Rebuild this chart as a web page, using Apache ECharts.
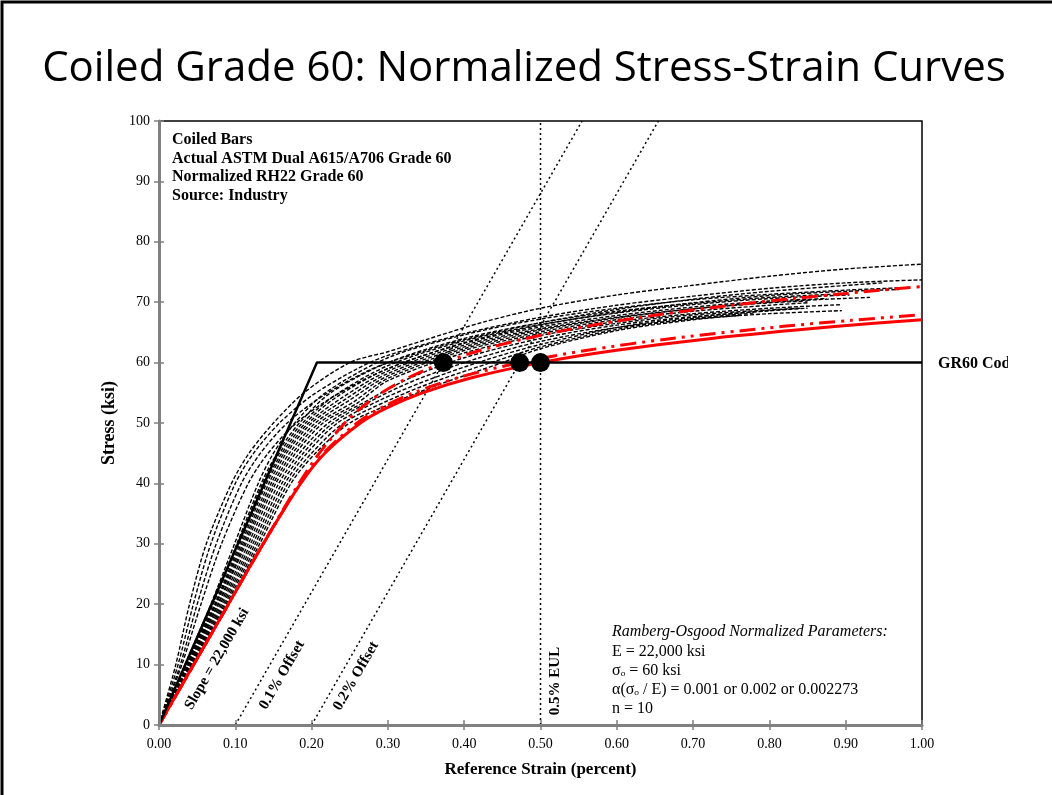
<!DOCTYPE html>
<html><head><meta charset="utf-8">
<script src="https://cdn.jsdelivr.net/npm/echarts@6/dist/echarts.min.js"></script>
<style>html,body{margin:0;padding:0;background:#fff}#c{width:1052px;height:795px}</style>
</head><body><div id="c"></div>
<script>
// ---- data: [strain (percent), stress (ksi)] ----
const S1 = [[0,0],[0.022,10],[0.04,20],[0.062,30],[0.095,40],[0.118,45],[0.15,50],[0.19,55],[0.25,60],[0.3,61.8],[0.35,63.8],[0.425,66.7],[0.5,69],[0.6,71.2],[0.7,72.8],[0.8,74.3],[0.9,75.5],[1.0,76.3]];
const S2 = [[0,0],[0.025,10],[0.045,20],[0.068,30],[0.1,40],[0.124,45],[0.158,50],[0.2,54.5],[0.26,59],[0.3,61.2],[0.4,64.8],[0.5,67.5],[0.6,69.5],[0.7,71],[0.8,72.3],[0.9,73.2],[1.0,73.7]];
const S3 = [[0,0],[0.028,10],[0.05,20],[0.075,30],[0.108,40],[0.133,45],[0.168,50],[0.215,54.5],[0.28,59],[0.35,62],[0.4,63.8],[0.5,66.6],[0.6,68.8],[0.7,70.5],[0.8,71.8],[0.948,73.2]];
const S4 = [[0,0],[0.03,10],[0.055,20],[0.082,30],[0.117,40],[0.143,45],[0.18,50],[0.23,54.5],[0.3,59],[0.4,63.3],[0.5,66.2],[0.6,68.3],[0.7,69.9],[0.8,71.1],[0.9,71.8],[0.97,72.1]];
const M1 = [[0,0],[0.034,10],[0.068,20],[0.099,30],[0.13,40],[0.15,45],[0.178,50],[0.218,55],[0.3,60.8],[0.4,64.6],[0.5,67.2],[0.6,69],[0.7,70.4],[0.8,71.3],[0.9,72],[0.974,72.4]];
const M2 = [[0,0],[0.035,10],[0.07,20],[0.102,30],[0.134,40],[0.155,45],[0.184,50],[0.225,55],[0.3,60],[0.4,64],[0.5,66.6],[0.6,68.5],[0.7,69.8],[0.8,70.8],[0.88,71.3]];
const M3 = [[0,0],[0.036,10],[0.071,20],[0.104,30],[0.136,40],[0.158,45],[0.188,50],[0.23,54.5],[0.3,59.5],[0.4,63.6],[0.5,66.3],[0.6,68.2],[0.7,69.6],[0.8,70.6],[0.905,71.2]];
const M4 = [[0,0],[0.036,10],[0.073,20],[0.106,30],[0.139,40],[0.161,45],[0.192,50],[0.235,54.5],[0.3,59],[0.4,63.2],[0.5,65.9],[0.6,67.8],[0.7,69.2],[0.8,70.2],[0.875,70.6]];
const M5 = [[0,0],[0.037,10],[0.074,20],[0.108,30],[0.141,40],[0.164,45],[0.196,50],[0.24,54.2],[0.3,58.6],[0.4,62.9],[0.5,65.6],[0.6,67.5],[0.7,68.9],[0.8,69.9],[0.85,70.2]];
const M6 = [[0,0],[0.038,10],[0.075,20],[0.11,30],[0.144,40],[0.167,45],[0.2,50],[0.245,54],[0.3,58.2],[0.4,62.6],[0.5,65.4],[0.6,67.4],[0.7,68.9],[0.8,70],[0.932,70.8]];
const M7 = [[0,0],[0.038,10],[0.077,20],[0.112,30],[0.147,40],[0.171,45],[0.205,50],[0.25,53.8],[0.3,57.8],[0.4,62.3],[0.5,65.1],[0.6,67.1],[0.7,68.5],[0.8,69.5],[0.85,69.9]];
const M8 = [[0,0],[0.039,10],[0.078,20],[0.114,30],[0.15,40],[0.175,45],[0.21,50],[0.255,53.5],[0.3,57.4],[0.4,62],[0.5,64.8],[0.6,66.8],[0.7,68.1],[0.8,69],[0.895,69.6]];
const M9 = [[0,0],[0.04,10],[0.08,20],[0.117,30],[0.153,40],[0.179,45],[0.215,50],[0.26,53.3],[0.3,57],[0.4,61.6],[0.5,64.5],[0.6,66.5],[0.7,67.9],[0.84,69]];
const M10 = [[0,0],[0.041,10],[0.082,20],[0.12,30],[0.157,40],[0.184,45],[0.222,50],[0.27,53.5],[0.33,57.5],[0.4,60.8],[0.5,64],[0.6,66.2],[0.7,67.6],[0.8,68.6],[0.83,68.9]];
const M11 = [[0,0],[0.042,10],[0.084,20],[0.123,30],[0.161,40],[0.189,45],[0.228,50],[0.28,53.8],[0.34,57.3],[0.42,60.8],[0.5,63.5],[0.6,65.8],[0.7,67.2],[0.8,68.1],[0.895,68.6]];
const M12 = [[0,0],[0.043,10],[0.086,20],[0.126,30],[0.165,40],[0.194,45],[0.234,50],[0.29,53.8],[0.35,57],[0.43,60.5],[0.5,63],[0.6,65.8],[0.7,67.5],[0.8,68.6],[0.85,69]];
const M13 = [[0,0],[0.044,10],[0.088,20],[0.129,30],[0.169,40],[0.2,45],[0.242,50],[0.3,53.7],[0.36,56.8],[0.44,60.2],[0.5,62.6],[0.6,65.5],[0.7,67.3],[0.78,68.2]];
const M14 = [[0,0],[0.045,10],[0.09,20],[0.132,30],[0.173,40],[0.205,45],[0.25,50],[0.31,53.5],[0.37,56.5],[0.45,60],[0.5,62.3],[0.6,65.3],[0.7,67.1],[0.76,67.8]];
const testCurves = [S1,S2,S3,S4,M1,M2,M3,M4,M5,M6,M7,M8,M9,M10,M11,M12,M13,M14];

// Ramberg-Osgood normalized curves
const ro001 = [[0,0],[0.0455,10],[0.0909,20],[0.1365,30],[0.1835,40],[0.2101,45],[0.2435,50],[0.2649,52.5],[0.2919,55],[0.3267,57.5],[0.3727,60],[0.4206,62],[0.4815,64],[0.5594,66],[0.6587,68],[0.7854,70],[0.9465,72],[1.0,72.57]];
const ro002 = [[0,0],[0.0455,10],[0.0909,20],[0.1366,30],[0.1853,40],[0.2158,45],[0.2596,50],[0.2912,52.5],[0.3338,55],[0.392,57.5],[0.4727,60],[0.5594,62],[0.6722,64],[0.8187,66],[0.9074,67],[1.0,67.92]];
const ro2273 = [[0,0],[0.0455,10],[0.0909,20],[0.1366,30],[0.1857,40],[0.2173,45],[0.264,50],[0.2984,52.5],[0.3452,55],[0.4098,57.5],[0.5,60],[0.5972,62],[0.7242,64],[0.8895,66],[1.0,67.1]];

const gr60Code = [[0,0],[0.207,60],[1.0,60]];
const offset01 = [[0.1,0],[0.5545,100]];
const offset02 = [[0.2,0],[0.6545,100]];
const eul05 = [[0.5,0],[0.5,100]];
const yieldPoints = [[0.3727,60],[0.4727,60],[0.5,60]];

const xMin = 0, xMax = 1, xStep = 0.1;
const yMin = 0, yMax = 100, yStep = 10;

const title = 'Coiled Grade 60: Normalized Stress-Strain Curves';
const infoLines = ['Coiled Bars','Actual ASTM Dual A615/A706 Grade 60','Normalized RH22 Grade 60','Source: Industry'];
const roLines = ['E = 22,000 ksi','σ\u2092 = 60 ksi','α(σ\u2092 / E) = 0.001 or 0.002 or 0.002273','n = 10'];

// ---- chart ----
const chart = echarts.init(document.getElementById('c'), null, {renderer:'canvas'});
const serif = '"Liberation Serif","Times New Roman",serif';
const G = {left:159, right:130, top:121, bottom:70};

const series = [];
testCurves.forEach((d,i)=>{
  series.push({type:'line', data:d, symbol:'none', smooth:0.3, silent:true,
    lineStyle:{color:'#000', width:1.4, type:[4,2]}, z:3});
});
series.push({type:'line', data:offset01, symbol:'none', silent:true, lineStyle:{color:'#000', width:1.5, type:[2,3]}, z:2});
series.push({type:'line', data:offset02, symbol:'none', silent:true, lineStyle:{color:'#000', width:1.5, type:[2,3]}, z:2});
series.push({type:'line', data:eul05, symbol:'none', silent:true, lineStyle:{color:'#000', width:1.5, type:[2,3]}, z:2});
series.push({type:'line', data:ro2273, symbol:'none', smooth:0.3, silent:true, lineStyle:{color:'#ff0000', width:3, type:'solid'}, z:5});
series.push({type:'line', data:ro002, symbol:'none', smooth:0.3, silent:true, lineStyle:{color:'#ff0000', width:3, type:[16,6,3,6,3,6]}, z:5});
series.push({type:'line', data:ro001, symbol:'none', smooth:0.3, silent:true, lineStyle:{color:'#ff0000', width:3, type:[16,6,3,6]}, z:5});
series.push({type:'line', data:gr60Code, symbol:'none', silent:true, lineStyle:{color:'#000', width:2.5}, z:6});
series.push({type:'scatter', data:yieldPoints, symbol:'circle', symbolSize:19, silent:true, itemStyle:{color:'#000', opacity:1}, z:7});

const tf = (size, extra) => (extra ? extra + ' ' : '') + size + 'px ' + serif;
const graphic = [
  {type:'rect', shape:{x:2, y:2, width:1100, height:900}, style:{fill:'none', stroke:'#000', lineWidth:3}, z:100},
  {type:'text', x:524, y:69, style:{text:title, font:'42px "Open Sans",sans-serif', fill:'#000', textAlign:'center', textVerticalAlign:'middle'}, z:100},
  {type:'text', x:938, y:364, style:{text:'GR60 Code', font:tf(16,'bold'), fill:'#000', textAlign:'left', textVerticalAlign:'middle'}, z:100},
  {type:'rect', shape:{x:1008, y:350, width:40, height:30}, style:{fill:'#fff'}, z:101},
  {type:'text', x:217, y:659, rotation:Math.PI/3, style:{text:'Slope = 22,000 ksi', font:tf(15,'bold'), fill:'#000', textAlign:'center', textVerticalAlign:'middle'}, z:100},
  {type:'text', x:282, y:675, rotation:Math.PI/3, style:{text:'0.1% Offset', font:tf(15,'bold'), fill:'#000', textAlign:'center', textVerticalAlign:'middle'}, z:100},
  {type:'text', x:356, y:676, rotation:Math.PI/3, style:{text:'0.2% Offset', font:tf(15,'bold'), fill:'#000', textAlign:'center', textVerticalAlign:'middle'}, z:100},
  {type:'text', x:555, y:681, rotation:Math.PI/2, style:{text:'0.5% EUL', font:tf(15,'bold'), fill:'#000', textAlign:'center', textVerticalAlign:'middle'}, z:100},
  {type:'text', x:612, y:632, style:{text:'Ramberg-Osgood Normalized Parameters:', font:tf(16,'italic'), fill:'#000', textAlign:'left', textVerticalAlign:'middle'}, z:100}
];
infoLines.forEach((t,i)=>graphic.push({type:'text', x:172, y:140+i*18.5, style:{text:t, font:tf(16,'bold'), fill:'#000', textAlign:'left', textVerticalAlign:'middle'}, z:100}));
roLines.forEach((t,i)=>graphic.push({type:'text', x:612, y:651.5+i*19.2, style:{text:t, font:tf(16), fill:'#000', textAlign:'left', textVerticalAlign:'middle'}, z:100}));

chart.setOption({
  animation:false,
  backgroundColor:'#fff',
  grid:{left:G.left, right:G.right, top:G.top, bottom:G.bottom, show:true, borderColor:'#000', borderWidth:1.5, backgroundColor:'transparent'},
  xAxis:[
    {type:'value', min:xMin, max:xMax, interval:xStep, name:'Reference Strain (percent)', nameLocation:'middle', nameGap:36,
     nameTextStyle:{fontFamily:serif, fontWeight:'bold', fontSize:17, color:'#000'},
     axisLine:{show:true, onZero:false, lineStyle:{color:'#808080', width:3}},
     axisTick:{show:true, length:5, lineStyle:{color:'#808080', width:1.5}},
     axisLabel:{fontFamily:serif, fontSize:14, color:'#000', margin:12, formatter:v=>v.toFixed(2)},
     splitLine:{show:false}, z:10},
    {type:'value', min:xMin, max:xMax, interval:xStep, position:'bottom', axisLine:{show:false}, axisLabel:{show:false},
     axisTick:{show:true, inside:true, length:5, lineStyle:{color:'#808080', width:1.5}}, splitLine:{show:false}}
  ],
  yAxis:[
    {type:'value', min:yMin, max:yMax, interval:yStep, name:'Stress (ksi)', nameLocation:'middle', nameGap:30,
     nameTextStyle:{fontFamily:serif, fontWeight:'bold', fontSize:18, color:'#000'},
     axisLine:{show:true, onZero:false, lineStyle:{color:'#808080', width:3}},
     axisTick:{show:true, length:5, lineStyle:{color:'#808080', width:1.5}},
     axisLabel:{fontFamily:serif, fontSize:14, color:'#000', margin:9},
     splitLine:{show:false}, z:10},
    {type:'value', min:yMin, max:yMax, interval:yStep, position:'left', axisLine:{show:false}, axisLabel:{show:false},
     axisTick:{show:true, inside:true, length:5, lineStyle:{color:'#808080', width:1.5}}, splitLine:{show:false}}
  ],
  series:series,
  graphic:graphic
});
</script></body></html>
